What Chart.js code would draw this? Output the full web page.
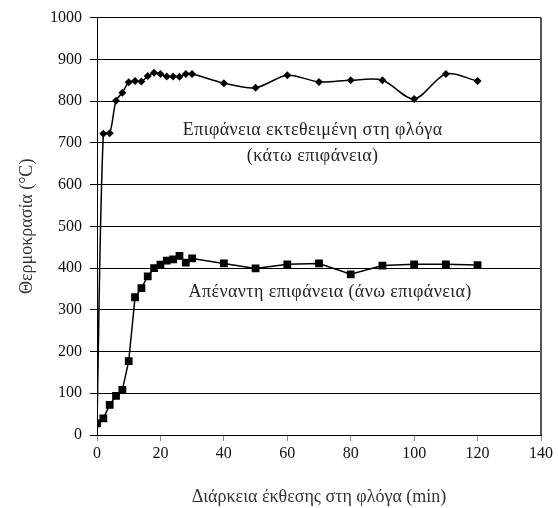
<!DOCTYPE html>
<html>
<head>
<meta charset="utf-8">
<script src="https://cdn.jsdelivr.net/npm/chart.js@4.4.1/dist/chart.umd.min.js"></script>
<style>
    body { margin: 0; background: #fff; }
    canvas { display: block; }
</style>
</head>
<body>
<canvas id="tempChart" width="558" height="508"></canvas>
<script>
// Time of exposure (min) and temperatures (°C)
const timeExposed = [0, 2, 4, 6, 8, 10, 12, 14, 16, 18, 20, 22, 24, 26, 28, 30, 40, 50, 60, 70, 80, 90, 100, 110, 120];
const tempExposed = [30, 722, 723, 801, 820, 845, 848, 847, 860, 868, 865, 859, 859, 858, 865, 865, 843, 832, 862, 846, 850, 850, 805, 865, 848];

const timeOpposite = [0, 2, 4, 6, 8, 10, 12, 14, 16, 18, 20, 22, 24, 26, 28, 30, 40, 50, 60, 70, 80, 90, 100, 110, 120];
const tempOpposite = [28, 40, 72, 94, 108, 177, 330, 352, 380, 400, 408, 418, 421, 429, 413, 423, 411, 399, 409, 411, 385, 406, 409, 409, 407];

// Axis ticks
const xTicks = [0, 20, 40, 60, 80, 100, 120, 140];
const yTicks = [0, 100, 200, 300, 400, 500, 600, 700, 800, 900, 1000];

// Labels written inside the plot (x in min, y in °C)
const noteTexts = ['Επιφάνεια εκτεθειμένη στη φλόγα', '(κάτω επιφάνεια)', 'Απέναντη επιφάνεια (άνω επιφάνεια)'];
const noteX = [68, 68, 73.5];
const noteY = [730, 667, 342];

const toPoints = (xs, ys) => xs.map((x, i) => ({ x: x, y: ys[i] }));

// Draw the in-plot notes and the right frame edge
const notesPlugin = {
    id: 'notes',
    afterDatasetsDraw(chart) {
        const ctx = chart.ctx;
        const area = chart.chartArea;
        const xs = chart.scales.x;
        const ys = chart.scales.y;
        ctx.save();
        ctx.strokeStyle = '#555';
        ctx.lineWidth = 2;
        ctx.beginPath();
        ctx.moveTo(area.right, area.top);
        ctx.lineTo(area.right, area.bottom);
        ctx.stroke();

        ctx.fillStyle = '#222';
        ctx.font = '18px "Liberation Serif", serif';
        ctx.letterSpacing = '0.4px';
        ctx.textAlign = 'center';
        ctx.textBaseline = 'middle';
        noteTexts.forEach((t, i) => {
            ctx.fillText(t, xs.getPixelForValue(noteX[i]), ys.getPixelForValue(noteY[i]));
        });
        ctx.restore();
    }
};

const ctx = document.getElementById('tempChart').getContext('2d');
const tempChart = new Chart(ctx, {
    type: 'line',
    data: {
        datasets: [{
            label: 'Επιφάνεια εκτεθειμένη στη φλόγα',
            data: toPoints(timeExposed, tempExposed),
            borderColor: '#000',
            backgroundColor: '#000',
            borderWidth: 1.5,
            tension: 0.3,
            pointStyle: 'rectRot',
            pointRadius: 4,
            pointBorderWidth: 0
        }, {
            label: 'Απέναντη επιφάνεια',
            data: toPoints(timeOpposite, tempOpposite),
            borderColor: '#000',
            backgroundColor: '#000',
            borderWidth: 1.5,
            tension: 0,
            pointStyle: 'rect',
            pointRadius: 5.5,
            pointBorderWidth: 0
        }]
    },
    options: {
        responsive: false,
        animation: false,
        layout: { padding: { top: 17, right: 17, left: 0, bottom: 0 } },
        plugins: {
            legend: { display: false },
            tooltip: { enabled: false }
        },
        scales: {
            x: {
                type: 'linear',
                min: 0,
                max: 140,
                afterBuildTicks: scale => { scale.ticks = xTicks.map(v => ({ value: v })); },
                afterFit: scale => { scale.height = 73; },
                grid: { drawOnChartArea: false, color: '#888', tickLength: 6 },
                border: { color: '#000', width: 1 },
                ticks: {
                    color: '#111',
                    padding: 3,
                    maxRotation: 0,
                    callback: v => String(v),
                    font: { family: '"Liberation Serif", serif', size: 16 }
                },
                title: {
                    display: true,
                    text: 'Διάρκεια έκθεσης στη φλόγα (min)',
                    color: '#333',
                    padding: { top: 0, bottom: 0 },
                    font: { family: '"Liberation Serif", serif', size: 18 }
                }
            },
            y: {
                min: 0,
                max: 1000,
                afterBuildTicks: scale => { scale.ticks = yTicks.map(v => ({ value: v })); },
                afterFit: scale => { scale.width = 97; },
                grid: { color: '#000', lineWidth: 1, tickLength: 7 },
                border: { color: '#000', width: 1 },
                ticks: {
                    color: '#111',
                    padding: 8,
                    callback: v => String(v),
                    font: { family: '"Liberation Serif", serif', size: 16 }
                },
                title: {
                    display: true,
                    text: 'Θερμοκρασία (°C)',
                    color: '#333',
                    padding: { top: 16, bottom: 0 },
                    font: { family: '"Liberation Serif", serif', size: 18 }
                }
            }
        }
    },
    plugins: [notesPlugin]
});
</script>
</body>
</html>
